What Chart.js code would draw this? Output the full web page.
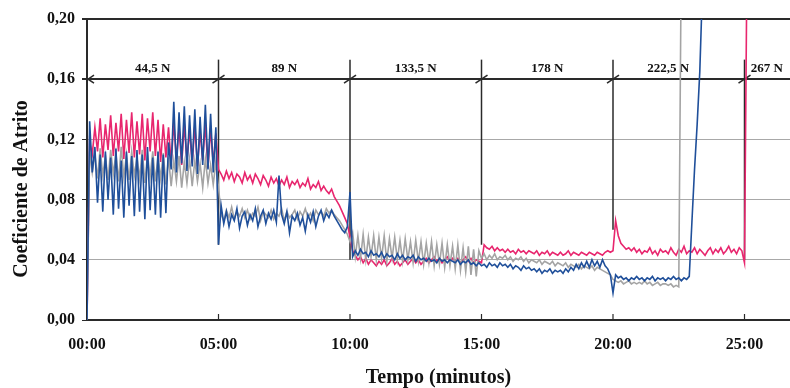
<!DOCTYPE html>
<html>
<head>
<meta charset="utf-8">
<script src="https://cdn.jsdelivr.net/npm/chart.js@4.4.1/dist/chart.umd.min.js"></script>
<style>
html,body{margin:0;padding:0;background:#fff;}
#wrap{width:790px;height:388px;}
</style>
</head>
<body>
<div id="wrap"><canvas id="c" width="790" height="388"></canvas></div>
<script>
// Tempo (minutos)
const tempo = [
0,0.1,0.2,0.3,0.4,0.5,0.6,0.7,0.8,0.9,
1,1.1,1.2,1.3,1.4,1.5,1.6,1.7,1.8,1.9,
2,2.1,2.2,2.3,2.4,2.5,2.6,2.7,2.8,2.9,
3,3.1,3.2,3.3,3.4,3.5,3.6,3.7,3.8,3.9,
4,4.1,4.2,4.3,4.4,4.5,4.6,4.7,4.8,4.9,
5,5.1,5.2,5.3,5.4,5.5,5.6,5.7,5.8,5.9,
6,6.1,6.2,6.3,6.4,6.5,6.6,6.7,6.8,6.9,
7,7.1,7.2,7.3,7.4,7.5,7.6,7.7,7.8,7.9,
8,8.1,8.2,8.3,8.4,8.5,8.6,8.7,8.8,8.9,
9,9.1,9.2,9.3,9.4,9.5,9.6,9.7,9.8,9.9,
10,10.1,10.2,10.3,10.4,10.5,10.6,10.7,10.8,10.9,
11,11.1,11.2,11.3,11.4,11.5,11.6,11.7,11.8,11.9,
12,12.1,12.2,12.3,12.4,12.5,12.6,12.7,12.8,12.9,
13,13.1,13.2,13.3,13.4,13.5,13.6,13.7,13.8,13.9,
14,14.1,14.2,14.3,14.4,14.5,14.6,14.7,14.8,14.9,
15,15.1,15.2,15.3,15.4,15.5,15.6,15.7,15.8,15.9,
16,16.1,16.2,16.3,16.4,16.5,16.6,16.7,16.8,16.9,
17,17.1,17.2,17.3,17.4,17.5,17.6,17.7,17.8,17.9,
18,18.1,18.2,18.3,18.4,18.5,18.6,18.7,18.8,18.9,
19,19.1,19.2,19.3,19.4,19.5,19.6,19.7,19.8,19.9,
20,20.1,20.2,20.3,20.4,20.5,20.6,20.7,20.8,20.9,
21,21.1,21.2,21.3,21.4,21.5,21.6,21.7,21.8,21.9,
22,22.1,22.2,22.3,22.4,22.5,22.6,22.7,22.8,22.9,
23,23.1,23.2,23.3,23.4,23.5,23.6,23.7,23.8,23.9,
24,24.1,24.2,24.3,24.4,24.5,24.6,24.7,24.8,24.9,
25,25.1
];

// Série rosa
const coefRosa = [
0.000,0.118,0.110,0.128,0.112,0.134,0.108,0.130,0.113,0.136,
0.109,0.131,0.112,0.137,0.107,0.133,0.111,0.138,0.108,0.132,
0.110,0.137,0.106,0.134,0.112,0.138,0.109,0.133,0.105,0.130,
0.108,0.128,0.104,0.131,0.107,0.127,0.103,0.130,0.106,0.126,
0.104,0.129,0.102,0.125,0.106,0.130,0.101,0.127,0.104,0.124,
0.100,0.097,0.093,0.099,0.094,0.098,0.092,0.097,0.095,0.091,
0.098,0.093,0.096,0.091,0.097,0.094,0.090,0.096,0.093,0.089,
0.095,0.091,0.094,0.089,0.093,0.090,0.095,0.088,0.092,0.090,
0.093,0.088,0.091,0.089,0.094,0.087,0.090,0.088,0.092,0.086,
0.089,0.086,0.084,0.087,0.082,0.079,0.076,0.072,0.068,0.064,
0.055,0.046,0.043,0.040,0.042,0.038,0.041,0.037,0.040,0.038,
0.036,0.039,0.037,0.040,0.036,0.038,0.041,0.037,0.039,0.036,
0.038,0.040,0.037,0.039,0.041,0.038,0.040,0.037,0.039,0.041,
0.038,0.040,0.042,0.039,0.041,0.038,0.040,0.042,0.039,0.041,
0.039,0.041,0.038,0.040,0.042,0.039,0.041,0.038,0.040,0.039,
0.038,0.050,0.048,0.047,0.049,0.046,0.048,0.046,0.047,0.045,
0.047,0.045,0.046,0.044,0.047,0.045,0.046,0.044,0.046,0.045,
0.044,0.046,0.043,0.045,0.044,0.046,0.043,0.045,0.044,0.043,
0.045,0.043,0.044,0.046,0.043,0.045,0.044,0.043,0.045,0.044,
0.043,0.045,0.044,0.043,0.045,0.044,0.043,0.045,0.046,0.045,
0.046,0.066,0.056,0.051,0.049,0.047,0.048,0.046,0.048,0.045,
0.047,0.044,0.046,0.045,0.048,0.044,0.046,0.043,0.047,0.045,
0.046,0.044,0.048,0.045,0.043,0.047,0.045,0.049,0.044,0.046,
0.045,0.048,0.044,0.047,0.045,0.043,0.046,0.048,0.044,0.047,
0.045,0.048,0.044,0.046,0.049,0.045,0.047,0.044,0.048,0.046,
0.038,0.250
];

// Série azul
const coefAzul = [
0.000,0.132,0.098,0.115,0.078,0.110,0.072,0.112,0.080,0.108,
0.070,0.114,0.074,0.106,0.068,0.112,0.076,0.109,0.069,0.113,
0.072,0.110,0.067,0.115,0.073,0.108,0.070,0.112,0.068,0.110,
0.071,0.118,0.100,0.145,0.098,0.138,0.104,0.142,0.099,0.136,
0.102,0.140,0.097,0.135,0.103,0.143,0.100,0.137,0.098,0.128,
0.050,0.076,0.064,0.072,0.062,0.070,0.066,0.074,0.061,0.069,
0.072,0.063,0.070,0.066,0.074,0.062,0.069,0.073,0.064,0.071,
0.067,0.073,0.065,0.096,0.070,0.064,0.072,0.058,0.069,0.066,
0.071,0.063,0.068,0.059,0.070,0.065,0.072,0.062,0.069,0.073,
0.066,0.071,0.068,0.073,0.069,0.066,0.063,0.060,0.058,0.062,
0.085,0.042,0.046,0.043,0.047,0.044,0.045,0.042,0.046,0.043,
0.044,0.042,0.045,0.041,0.044,0.042,0.043,0.040,0.044,0.041,
0.043,0.040,0.042,0.041,0.043,0.039,0.042,0.040,0.041,0.039,
0.041,0.039,0.040,0.038,0.041,0.039,0.040,0.038,0.040,0.039,
0.038,0.040,0.037,0.039,0.038,0.040,0.037,0.038,0.036,0.038,
0.036,0.037,0.035,0.038,0.036,0.037,0.035,0.038,0.036,0.037,
0.035,0.037,0.034,0.036,0.035,0.033,0.036,0.034,0.035,0.033,
0.034,0.032,0.034,0.031,0.033,0.032,0.034,0.031,0.033,0.032,
0.033,0.031,0.034,0.032,0.035,0.033,0.037,0.034,0.038,0.035,
0.039,0.035,0.040,0.036,0.039,0.035,0.040,0.036,0.034,0.030,
0.018,0.030,0.028,0.029,0.027,0.028,0.026,0.028,0.027,0.029,
0.027,0.028,0.026,0.028,0.027,0.029,0.026,0.028,0.027,0.028,
0.026,0.028,0.027,0.029,0.027,0.028,0.026,0.028,0.027,0.029,
0.065,0.100,0.130,0.165,0.220
];

// Série cinza
const coefCinza = [
0.000,0.112,0.098,0.110,0.094,0.114,0.096,0.109,0.093,0.113,
0.097,0.111,0.092,0.115,0.095,0.110,0.093,0.112,0.096,0.108,
0.094,0.113,0.091,0.110,0.095,0.112,0.092,0.109,0.094,0.111,
0.090,0.108,0.089,0.106,0.092,0.109,0.088,0.105,0.091,0.107,
0.089,0.106,0.092,0.104,0.088,0.107,0.091,0.103,0.090,0.105,
0.088,0.070,0.066,0.073,0.068,0.075,0.067,0.072,0.069,0.074,
0.068,0.073,0.067,0.071,0.069,0.075,0.066,0.072,0.070,0.068,
0.073,0.067,0.071,0.069,0.074,0.066,0.072,0.068,0.070,0.073,
0.067,0.072,0.069,0.074,0.068,0.071,0.066,0.073,0.070,0.072,
0.069,0.074,0.071,0.073,0.070,0.068,0.066,0.063,0.060,0.057,
0.052,0.058,0.042,0.056,0.041,0.057,0.040,0.055,0.042,0.056,
0.040,0.055,0.041,0.056,0.039,0.054,0.041,0.055,0.040,0.053,
0.039,0.054,0.040,0.052,0.038,0.053,0.039,0.052,0.037,0.051,
0.038,0.052,0.036,0.050,0.037,0.051,0.035,0.050,0.036,0.049,
0.034,0.050,0.033,0.048,0.032,0.049,0.030,0.047,0.029,0.046,
0.041,0.044,0.040,0.043,0.041,0.044,0.040,0.042,0.041,0.043,
0.040,0.042,0.039,0.041,0.040,0.042,0.039,0.041,0.038,0.040,
0.039,0.038,0.040,0.037,0.039,0.038,0.037,0.039,0.036,0.038,
0.037,0.036,0.038,0.035,0.037,0.036,0.035,0.037,0.034,0.036,
0.035,0.034,0.036,0.033,0.035,0.034,0.033,0.032,0.031,0.030,
0.027,0.026,0.025,0.026,0.024,0.025,0.026,0.024,0.025,0.024,
0.025,0.024,0.026,0.024,0.025,0.023,0.024,0.025,0.023,0.024,
0.024,0.023,0.024,0.022,0.023,0.022,0.250
];

// Etapas de carga
const cargas = ['44,5 N','89 N','133,5 N','178 N','222,5 N','267 N'];
const inicioEtapa = [0,5,10,15,20,25];
const fimEtapa = [5,10,15,20,24.2,26.7];
const mudancaCarga = [5,10,15,20,25];
const baseLinhaCarga = [0.05,0.04,0.05,0.06,0.04];

// Eixos
const ticksTempo = [0,5,10,15,20,25];
const rotulosTempo = ['00:00','05:00','10:00','15:00','20:00','25:00'];

const serif = '"Liberation Serif", "Times New Roman", serif';

function pts(arr){ return arr.map((v,i)=>({x:tempo[i], y:v})); }

const overlay = {
  id:'overlay',
  beforeDatasetsDraw(chart){
    const {ctx, scales:{x,y}, chartArea:a} = chart;
    ctx.save();
    ctx.strokeStyle = '#2a2a2a';
    ctx.lineWidth = 1.5;
    const py16 = y.getPixelForValue(0.16);
    mudancaCarga.forEach((t,i)=>{
      const px = x.getPixelForValue(t);
      ctx.beginPath();
      ctx.moveTo(px, y.getPixelForValue(0.173));
      ctx.lineTo(px, y.getPixelForValue(baseLinhaCarga[i]));
      ctx.stroke();
      ctx.beginPath();
      ctx.moveTo(px-6, py16+4);
      ctx.lineTo(px+6, py16-4);
      ctx.stroke();
    });
    // left arrow head
    ctx.beginPath();
    ctx.moveTo(a.left+7, py16-4); ctx.lineTo(a.left+1, py16); ctx.lineTo(a.left+7, py16+4);
    ctx.stroke();
    // inner x ticks
    ctx.lineWidth = 1.2;
    ticksTempo.forEach(t=>{
      const px = x.getPixelForValue(t);
      ctx.beginPath(); ctx.moveTo(px, a.bottom); ctx.lineTo(px, a.bottom-6); ctx.stroke();
    });
    // stage labels
    ctx.fillStyle = '#111';
    ctx.font = 'bold 13px ' + serif;
    ctx.textAlign = 'center';
    ctx.textBaseline = 'middle';
    cargas.forEach((c,i)=>{
      ctx.fillText(c, x.getPixelForValue((inicioEtapa[i]+fimEtapa[i])/2), y.getPixelForValue(0.1667));
    });
    // y title
    ctx.translate(22, 189);
    ctx.rotate(-Math.PI/2);
    ctx.font = 'bold 20px ' + serif;
    ctx.fillText('Coeficiente de Atrito', 0, 0);
    ctx.restore();
  }
};

const isV = (v,t)=>Math.abs(v-t)<1e-6;

new Chart(document.getElementById('c'), {
  type:'line',
  data:{
    datasets:[
      {label:'Azul', data:pts(coefAzul), borderColor:'#1f4f9a', borderWidth:1.6, pointRadius:0, tension:0, order:0},
      {label:'Cinza', data:pts(coefCinza), borderColor:'#a4a4a4', borderWidth:1.6, pointRadius:0, tension:0, order:1},
      {label:'Rosa', data:pts(coefRosa), borderColor:'#e8266e', borderWidth:1.6, pointRadius:0, tension:0, order:2}
    ]
  },
  options:{
    responsive:false,
    animation:false,
    devicePixelRatio:1,
    layout:{padding:{left:0,right:0,top:19,bottom:0}},
    plugins:{legend:{display:false}, tooltip:{enabled:false}},
    scales:{
      x:{
        type:'linear', min:0, max:26.73,
        afterFit(s){ s.height = 68; },
        afterBuildTicks(s){ s.ticks = ticksTempo.map(v=>({value:v})); },
        ticks:{
          includeBounds:false, padding:15, maxRotation:0, autoSkip:false,
          color:'#111', font:{family:serif, size:16, weight:'bold'},
          callback:(v)=>{ const k = ticksTempo.indexOf(v); return k>=0 ? rotulosTempo[k] : ''; }
        },
        grid:{display:true, drawOnChartArea:false, drawTicks:false},
        border:{display:true, color:'#2a2a2a', width:2},
        title:{display:true, text:'Tempo (minutos)', color:'#111',
          font:{family:serif, size:20, weight:'bold', lineHeight:1}, padding:{top:0,bottom:0}}
      },
      y:{
        min:0, max:0.2,
        afterFit(s){ s.width = 87; },
        ticks:{
          stepSize:0.04, padding:7, color:'#111',
          font:{family:serif, size:16, weight:'bold'},
          callback:(v)=>v.toFixed(2).replace('.',',')
        },
        grid:{
          tickLength:5,
          tickColor:'#2a2a2a',
          color:(c)=> (isV(c.tick.value,0.16)||isV(c.tick.value,0.2)) ? '#2a2a2a' : '#a8a8a8',
          lineWidth:(c)=> (isV(c.tick.value,0.16)||isV(c.tick.value,0.2)) ? 2 : 1
        },
        border:{display:true, color:'#2a2a2a', width:2}
      }
    }
  },
  plugins:[overlay]
});
</script>
</body>
</html>
